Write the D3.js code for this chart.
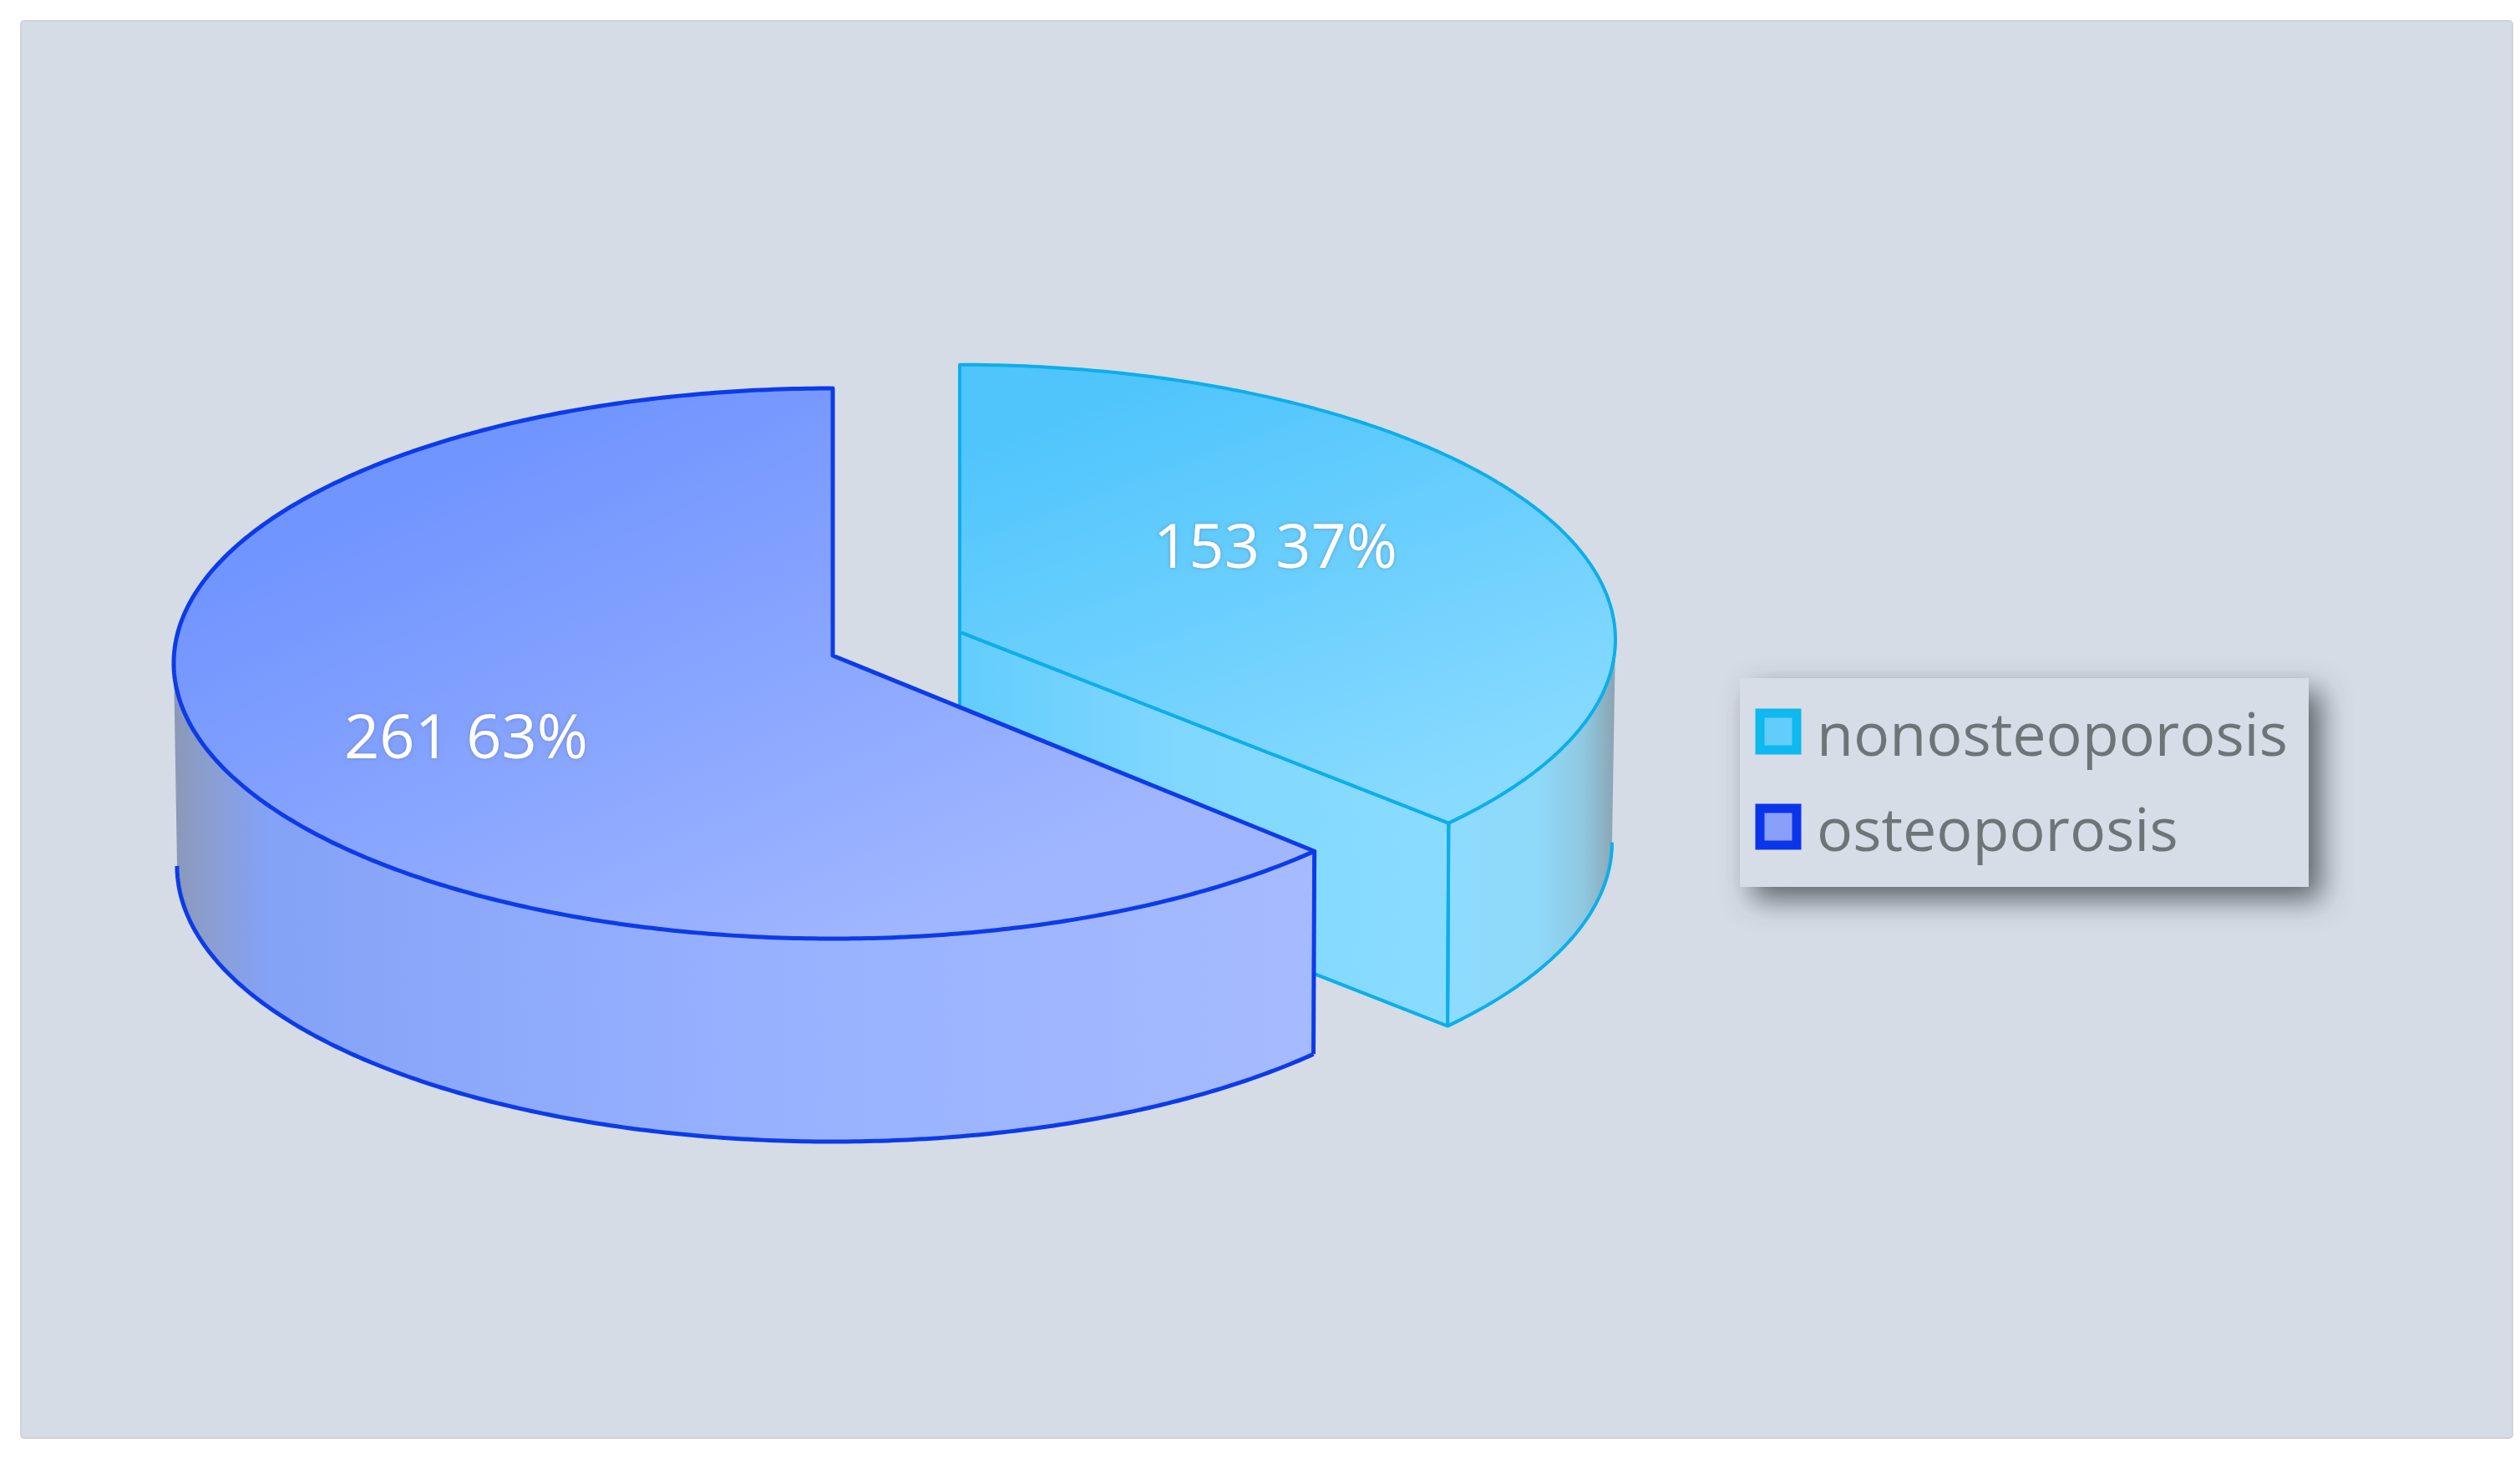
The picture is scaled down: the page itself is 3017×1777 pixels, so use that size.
<!DOCTYPE html>
<html>
<head>
<meta charset="utf-8">
<script src="https://cdn.jsdelivr.net/npm/d3@7"></script>
<style>
html,body{margin:0;padding:0;background:#fff}
svg{display:block}
text{font-family:"Open Sans","Noto Sans",sans-serif}
</style>
</head>
<body>
<svg id="chart" width="3017" height="1777"></svg>
<script>
const categories = ["nonosteoporosis", "osteoporosis"];
const seriesValues = [153, 261];
const percentLabels = ["37%", "63%"];

const W = 3017, H = 1777;
const svg = d3.select("#chart").attr("viewBox", [0, 0, W, H]);
const defs = svg.append("defs");

function gradient(id, x1, y1, x2, y2, stops) {
  const g = defs.append("linearGradient").attr("id", id)
    .attr("gradientUnits", "userSpaceOnUse")
    .attr("x1", x1).attr("y1", y1).attr("x2", x2).attr("y2", y2);
  stops.forEach(([o, c]) => g.append("stop").attr("offset", o).attr("stop-color", c));
}

// layout: apex sits slightly above the rim ellipse's centre (perspective)
const cx = 997, cy = 785, rimDy = 9, ryUp = 329, ryDown = 330, depth = 243, explode = 0.21, bottomInset = 4;

gradient("topBlue", 760, 470, 1060, 1130, [[0, "#7195ff"], [1, "#a0b6ff"]]);
gradient("wallBlue", 210, 0, 1576, 0, [[0, "#8b98b8"], [0.03, "#8a9ed0"], [0.08, "#84a2f6"], [0.5, "#97b1ff"], [1, "#a6bbff"]]);
gradient("topCyan", 1440, 440, 1640, 985, [[0, "#50c5fc"], [1, "#88daff"]]);
gradient("cutCyan", 1150, 0, 1735, 0, [[0, "#62cdfb"], [0.45, "#80d7ff"], [1, "#8adcff"]]);
gradient("wallCyan", 1735, 0, 1932, 0, [[0, "#8ddcff"], [0.55, "#8fd8f8"], [0.82, "#8fc8e0"], [1, "#8ba6b4"]]);

const blur = defs.append("filter").attr("id", "soft").attr("x", "-2%").attr("y", "-2%").attr("width", "104%").attr("height", "104%");
blur.append("feGaussianBlur").attr("stdDeviation", 0.7);

const legendShadow = defs.append("filter").attr("id", "legendShadow")
  .attr("x", "-15%").attr("y", "-30%").attr("width", "130%").attr("height", "160%");
legendShadow.append("feDropShadow").attr("dx", 15).attr("dy", 15).attr("stdDeviation", 17)
  .attr("flood-color", "#40464e").attr("flood-opacity", 0.8);

const textShadow = defs.append("filter").attr("id", "textShadow")
  .attr("x", "-10%").attr("y", "-20%").attr("width", "120%").attr("height", "140%");
textShadow.append("feDropShadow").attr("dx", 0).attr("dy", 0).attr("stdDeviation", 2)
  .attr("flood-color", "#5a6a90").attr("flood-opacity", 0.55);

// panel
svg.append("rect").attr("x", 25).attr("y", 25).attr("width", 2983).attr("height", 1697).attr("rx", 4)
  .attr("fill", "#d5dce6").attr("stroke", "#cfd2d6").attr("stroke-width", 2);

const pie = d3.pie().sort(null).startAngle(0).endAngle(2 * Math.PI);
const arcs = pie(seriesValues);

function sample(a0, a1) {
  const n = Math.max(2, Math.ceil(Math.abs(a1 - a0) / 0.01));
  return d3.range(n + 1).map(i => a0 + (a1 - a0) * i / n);
}
const line = d3.line();

const styles = [
  {stroke: "#08aeea", width: 4, rx: 785, endTrim: 0.022, top: "url(#topCyan)", wall: "url(#wallCyan)", cut: "url(#cutCyan)"},
  {stroke: "#0f3be8", width: 5, rx: 789, endTrim: 0, top: "url(#topBlue)", wall: "url(#wallBlue)", cut: null}
];

const chart = svg.append("g").attr("filter", "url(#soft)");

arcs.forEach((d, i) => {
  const st = styles[i];
  const g = chart.append("g");
  // exploded offset for the smaller slice
  const mid = (d.startAngle + d.endAngle) / 2;
  const ox = i === 0 ? explode * 789 * Math.sin(mid) : 0;
  const oy = i === 0 ? -explode * 338 * Math.cos(mid) : 0;
  const apex = [cx + ox, cy + oy];
  const P = a => {
    const c = Math.cos(a);
    return [cx + ox + st.rx * Math.sin(a), cy + oy + rimDy - (c > 0 ? ryUp : ryDown) * c];
  };
  const B = a => {
    const p = P(a);
    return [p[0] - bottomInset * Math.sin(a) * Math.abs(Math.sin(a)) ** 3, p[1] + depth];
  };
  const start = d.startAngle;
  const end = d.endAngle - st.endTrim;

  // visible portion of the outer wall: between 90deg and 270deg
  const wa0 = Math.max(start, Math.PI / 2);
  const wa1 = Math.min(end, 3 * Math.PI / 2);
  const topEdge = sample(wa0, wa1).map(P);
  const botEdge = sample(wa1, wa0).map(B);
  g.append("path").attr("d", line(topEdge.concat(botEdge)) + "Z").attr("fill", st.wall);
  g.append("path").attr("d", line(sample(wa0, wa1).map(B)))
    .attr("fill", "none").attr("stroke", st.stroke).attr("stroke-width", st.width);

  // visible cut face (first slice only)
  if (st.cut) {
    const ab = [apex[0], apex[1] + depth];
    g.append("path").attr("d", line([apex, P(end), B(end), ab]) + "Z")
      .attr("fill", st.cut).attr("stroke", st.stroke).attr("stroke-width", st.width)
      .attr("stroke-linejoin", "round");
  }
  // front vertical edge
  const frontA = i === 0 ? end : start;
  g.append("path").attr("d", line([P(frontA), B(frontA)]))
    .attr("stroke", st.stroke).attr("stroke-width", st.width).attr("fill", "none");

  // top face
  const rim = sample(start, end).map(P);
  g.append("path").attr("d", line([apex].concat(rim)) + "Z")
    .attr("fill", st.top).attr("stroke", st.stroke).attr("stroke-width", st.width)
    .attr("stroke-linejoin", "round");
});

// value labels
const labelAnchors = [[1527, 680], [558, 908]];
arcs.forEach((d, i) => {
  svg.append("text")
    .attr("x", labelAnchors[i][0]).attr("y", labelAnchors[i][1])
    .attr("text-anchor", "middle").attr("font-size", 74)
    .attr("fill", "#ffffff").attr("filter", "url(#textShadow)")
    .text(seriesValues[i] + " " + percentLabels[i]);
});

// legend
const legend = svg.append("g");
legend.append("rect").attr("x", 2083).attr("y", 812).attr("width", 681).attr("height", 250)
  .attr("fill", "#d6dde6").attr("filter", "url(#legendShadow)");
const legendColor = d3.scaleOrdinal().domain(categories).range(["#0fb8ee", "#0a35ea"]);
const legendFill = d3.scaleOrdinal().domain(categories).range(["#62cdf9", "#8a9ffa"]);
const legendY = d3.scalePoint().domain(categories).range([905, 1019]);
categories.forEach(c => {
  const y = legendY(c);
  legend.append("rect").attr("x", 2107).attr("y", y - 51).attr("width", 44).attr("height", 44)
    .attr("fill", legendFill(c)).attr("stroke", legendColor(c)).attr("stroke-width", 11);
  legend.append("text").attr("x", 2175).attr("y", y)
    .attr("font-size", 71.8).attr("fill", "#6f7478").text(c);
});
</script>
</body>
</html>
